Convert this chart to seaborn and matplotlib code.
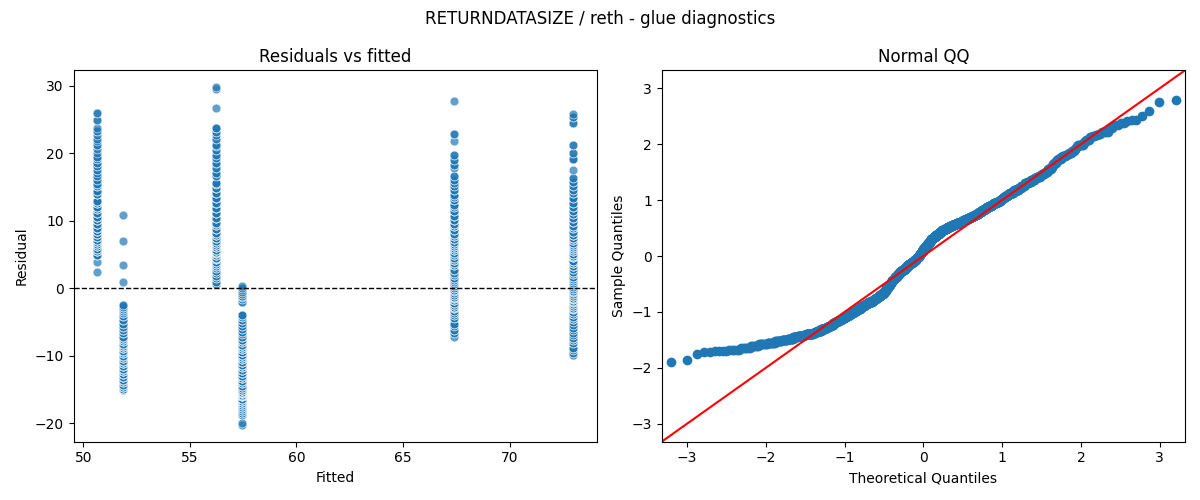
import numpy as np
import pandas as pd
import matplotlib
matplotlib.use("Agg")
import matplotlib.pyplot as plt
import seaborn as sns
from statistics import NormalDist

# fitted value of each group (left panel columns)
fitted = [50.66, 51.85, 56.24, 57.43, 67.39, 72.97]

# residual scale used for the QQ panel
resid_scale = 10.7

# residual values per group and how many observations sit on each value
res_g1 = [2.45, 3.9, 5.0, 5.5, 5.9, 6.25, 6.55, 6.85, 7.2, 7.6, 8.0, 8.5, 9.0, 9.6, 10.1, 10.6,
          11.1, 11.7, 12.1, 12.6, 13.0, 14.0, 14.5, 15.1, 15.5, 16.1, 16.6, 17.1, 17.6,
          18.2, 18.6, 19.1, 19.5, 20.0, 20.6, 21.3, 21.8, 22.2, 22.7, 23.3, 23.7, 25.0, 26.0]
cnt_g1 = [1, 1, 5, 7, 6, 6, 6, 6, 7, 6, 6, 7, 7, 7, 7, 7,
          6, 5, 6, 5, 6, 6, 4, 4, 3, 2, 2, 1, 2,
          2, 2, 2, 2, 1, 1, 2, 1, 1, 1, 2, 1, 2, 2]

res_g2 = [-15.1, -14.95, -14.6, -14.3, -13.9, -13.6, -13.1, -12.7, -12.3, -11.95, -11.5, -11.1,
          -10.7, -10.35, -10.05, -9.6, -9.2, -8.85, -8.55, -8.3, -7.85, -7.45, -7.15, -6.6, -6.2,
          -5.7, -5.3, -4.7, -4.1, -3.7, -3.35, -3.05, -2.75, -2.45, 0.9, 3.5, 7.0, 10.9]
cnt_g2 = [6, 6, 6, 6, 6, 7, 8, 8, 8, 8, 8, 8,
          8, 7, 7, 8, 8, 8, 8, 8, 7, 7, 6, 4, 4,
          4, 3, 4, 4, 4, 3, 4, 4, 2, 1, 1, 1, 1]

res_g3 = [0.6, 1.0, 1.5, 1.9, 2.3, 2.65, 3.0, 3.3, 3.65, 3.95, 4.3, 4.55, 4.9, 5.2, 5.45, 5.75,
          6.1, 6.4, 6.7, 7.05, 7.45, 7.85, 8.25, 8.8, 9.4, 9.75, 10.4, 11.2, 11.9, 12.6, 13.4,
          14.1, 14.9, 15.4, 15.6, 16.6, 17.1, 17.8, 18.6, 19.3, 19.8, 20.5, 21.1, 21.3, 22.2,
          22.7, 23.2, 23.7, 26.7, 29.5, 29.8]
cnt_g3 = [2, 2, 3, 3, 3, 3, 3, 5, 5, 5, 5, 7, 7, 6, 7, 8,
          8, 7, 6, 6, 7, 6, 6, 7, 6, 7, 6, 6, 6, 7, 6,
          5, 5, 2, 3, 2, 2, 2, 3, 2, 2, 2, 1, 2, 2,
          1, 2, 3, 1, 1, 1]

res_g4 = [-20.2, -19.95, -18.7, -18.4, -18.2, -17.9, -17.6, -17.3, -16.9, -16.6, -16.3, -16.0,
          -15.8, -15.55, -15.3, -15.0, -14.7, -14.4, -14.0, -13.7, -13.3, -12.9, -12.5, -12.1,
          -11.7, -11.3, -10.9, -10.5, -10.15, -9.8, -9.4, -9.0, -8.7, -8.4, -8.0, -7.6, -7.25,
          -6.8, -6.4, -6.0, -5.5, -5.1, -4.6, -4.3, -3.95, -1.95, -1.6, -1.3, -1.05, -0.8,
          -0.5, -0.2, 0.05, 0.35]
cnt_g4 = [1, 1, 1, 2, 4, 5, 6, 6, 8, 9, 9, 9,
          10, 9, 13, 12, 6, 6, 6, 7, 8, 8, 8, 8,
          8, 8, 8, 8, 7, 8, 8, 8, 8, 8, 7, 7, 6,
          3, 3, 3, 3, 3, 4, 4, 4, 2, 2, 2, 2, 2,
          2, 1, 2, 1]

res_g5 = [-7.2, -6.6, -6.1, -5.5, -5.2, -4.4, -4.0, -3.6, -3.3, -2.95, -2.7, -2.4, -2.15, -1.7,
          -1.45, -1.2, -0.95, -0.7, -0.45, -0.25, 0.1, 0.4, 0.65, 0.95, 1.3, 1.6, 2.0, 2.3, 2.7,
          3.4, 3.8, 4.25, 4.5, 4.95, 5.3, 5.65, 6.0, 6.3, 6.55, 6.95, 7.3, 7.7, 8.1, 8.6, 9.2,
          9.6, 10.2, 10.7, 11.4, 12.0, 12.4, 13.1, 13.6, 13.9, 14.6, 15.1, 15.6, 16.1, 16.6,
          17.8, 18.3, 19.0, 19.8, 21.8, 22.9, 27.7]
cnt_g5 = [1, 2, 3, 2, 3, 3, 3, 3, 3, 5, 5, 5, 5, 6,
          5, 6, 5, 3, 3, 3, 4, 3, 3, 3, 4, 4, 4, 4, 4,
          6, 5, 6, 5, 5, 5, 6, 6, 7, 6, 5, 6, 6, 5, 5, 6,
          5, 6, 5, 4, 3, 4, 3, 3, 3, 3, 2, 2, 2, 2,
          1, 2, 2, 2, 1, 2, 1]

res_g6 = [-9.8, -9.5, -9.1, -8.8, -8.1, -7.7, -7.3, -6.9, -6.55, -6.1, -5.8, -5.4, -5.0, -4.55,
          -4.2, -3.8, -3.45, -3.1, -2.85, -2.6, -2.3, -2.05, -1.8, -1.55, -1.35, -1.1, -0.85,
          -0.6, -0.35, -0.1, 0.2, 0.5, 0.8, 1.05, 1.4, 1.75, 2.1, 2.45, 2.85, 3.25, 3.7, 4.1,
          4.6, 4.85, 5.15, 5.5, 5.85, 6.2, 6.45, 6.8, 7.1, 7.5, 7.9, 8.4, 8.9, 9.3, 9.9, 10.4,
          11.0, 11.5, 12.1, 12.7, 13.4, 14.2, 14.6, 15.2, 15.8, 16.3, 17.5, 19.1, 20.0, 21.2,
          24.5, 25.4, 25.9]
cnt_g6 = [2, 3, 2, 3, 3, 3, 4, 2, 2, 2, 2, 2, 2, 4,
          4, 4, 3, 5, 5, 5, 5, 5, 5, 5, 6, 6, 5,
          4, 4, 4, 4, 3, 3, 3, 4, 4, 5, 5, 4, 6, 6, 6,
          6, 5, 6, 7, 6, 7, 6, 6, 6, 6, 6, 5, 5, 5, 6, 5,
          4, 4, 4, 4, 4, 4, 3, 3, 3, 2, 1, 3, 2, 2,
          2, 2, 1]

groups = [(res_g1, cnt_g1), (res_g2, cnt_g2), (res_g3, cnt_g3),
          (res_g4, cnt_g4), (res_g5, cnt_g5), (res_g6, cnt_g6)]

rows = []
for fv, (vals, cnts) in zip(fitted, groups):
    for v in np.repeat(vals, cnts):
        rows.append((fv, v))
df = pd.DataFrame(rows, columns=["fitted", "resid"])

# normal QQ of scaled residuals
sample_q = np.sort(df["resid"].to_numpy() / resid_scale)
n = len(sample_q)
nd = NormalDist()
theo_q = np.array([nd.inv_cdf(i / (n + 1)) for i in range(1, n + 1)])
qq = pd.DataFrame({"theoretical": theo_q, "sample": sample_q})

fig, (ax1, ax2) = plt.subplots(1, 2, figsize=(12, 5), dpi=100)

sns.scatterplot(data=df, x="fitted", y="resid", alpha=0.7, s=40, ax=ax1)
ax1.axhline(0, color="black", linestyle="--", linewidth=1)
ax1.set_title("Residuals vs fitted")
ax1.set_xlabel("Fitted")
ax1.set_ylabel("Residual")

sns.scatterplot(data=qq, x="theoretical", y="sample", s=49, linewidth=0, color="#1f77b4", ax=ax2)
ax2.axline((0, 0), slope=1, color="red")
ax2.set_xlim(-3.32, 3.32)
ax2.set_ylim(-3.32, 3.32)
ax2.set_title("Normal QQ")
ax2.set_xlabel("Theoretical Quantiles")
ax2.set_ylabel("Sample Quantiles")

fig.suptitle("RETURNDATASIZE / reth - glue diagnostics")
fig.tight_layout()
fig.savefig("out.png")
